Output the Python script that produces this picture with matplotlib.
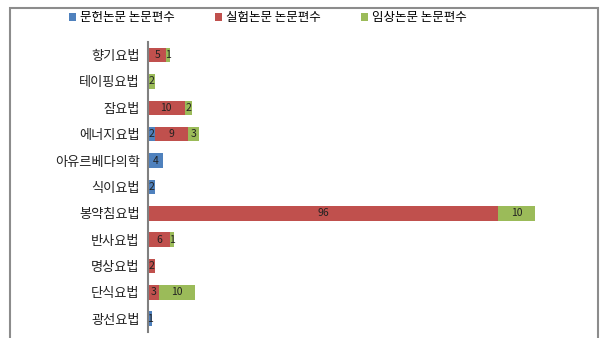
import matplotlib
matplotlib.use("Agg")
import matplotlib.pyplot as plt
from matplotlib.patches import Rectangle
import numpy as np

plt.rcParams['font.family'] = ['Noto Sans CJK KR', 'DejaVu Sans']

categories = ["향기요법", "테이핑요법", "잠요법", "에너지요법", "아유르베다의학", "식이요법",
              "봉약침요법", "반사요법", "명상요법", "단식요법", "광선요법"]
series_names = ["문헌논문 논문편수", "실험논문 논문편수", "임상논문 논문편수"]
literature = [0, 0, 0, 2, 4, 2, 0, 0, 0, 0, 1]
experiment = [5, 0, 10, 9, 0, 0, 96, 6, 2, 3, 0]
clinical = [1, 2, 2, 3, 0, 0, 10, 1, 0, 10, 0]
colors = ["#4F81BD", "#C0504D", "#9BBB59"]

fig = plt.figure(figsize=(6.09, 3.38), dpi=100)
ax = fig.add_axes([148 / 609, 0.018, (586 - 148) / 609, 0.858])

y = np.arange(len(categories))
left = np.zeros(len(categories))
handles = []
for vals, c, name in zip([literature, experiment, clinical], colors, series_names):
    vals = np.array(vals, dtype=float)
    bars = ax.barh(y, vals, left=left, height=0.55, color=c, label=name)
    handles.append(bars)
    for yi, v, l in zip(y, vals, left):
        if v > 0:
            ax.text(l + v / 2, yi, f"{int(v)}", ha="center", va="center",
                    fontsize=7.5, color="#222222")
    left += vals

ax.set_xlim(0, 120)
ax.set_ylim(len(categories) - 0.5, -0.5)
ax.set_yticks(y)
ax.set_yticklabels(categories, fontsize=9.5, color="#222222")
ax.tick_params(axis="y", length=0, pad=6)
ax.set_xticks([])
for s in ["top", "right", "bottom"]:
    ax.spines[s].set_visible(False)
ax.spines["left"].set_color("#808080")
ax.spines["left"].set_linewidth(1.5)

fig.legend(handles=handles, labels=series_names, loc="center",
           bbox_to_anchor=(0.44, 0.947), ncol=3, frameon=False, fontsize=9,
           handlelength=0.6, handleheight=0.6, handletextpad=0.3, columnspacing=3.2)

frame = Rectangle((10 / 609, -0.05), (598 - 10) / 609, 1.05 - 8 / 338,
                  transform=fig.transFigure, fill=False, edgecolor="#8c8c8c",
                  linewidth=1.5)
fig.patches.append(frame)

fig.savefig("out.png", dpi=100, facecolor="white")
